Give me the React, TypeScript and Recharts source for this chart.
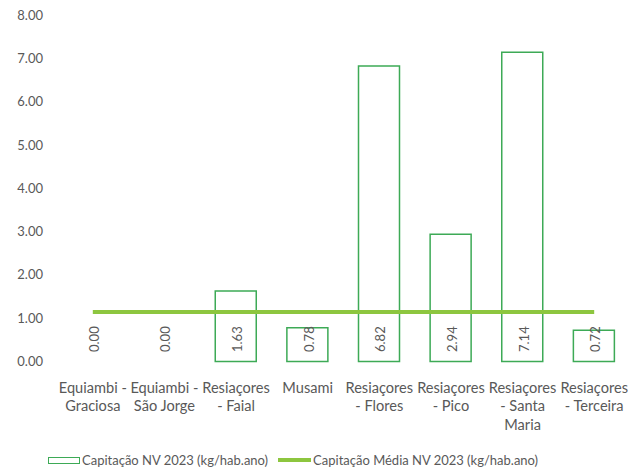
import React from "react";
import { ComposedChart, Bar, Line, XAxis, YAxis, LabelList } from "recharts";

const categories = [
  ["Equiambi -", "Graciosa"],
  ["Equiambi -", "São Jorge"],
  ["Resiaçores", "- Faial"],
  ["Musami"],
  ["Resiaçores", "- Flores"],
  ["Resiaçores", "- Pico"],
  ["Resiaçores", "- Santa", "Maria"],
  ["Resiaçores", "- Terceira"],
];
const capitacao = [0.0, 0.0, 1.63, 0.78, 6.82, 2.94, 7.14, 0.72];
const media = [1.14, 1.14, 1.14, 1.14, 1.14, 1.14, 1.14, 1.14];
const yTicks = [0, 1, 2, 3, 4, 5, 6, 7, 8];

const data = categories.map((c, i) => ({
  name: c.join("\n"),
  cap: capitacao[i],
  avg: media[i],
  zero: 0,
}));

const FONT = "Lato, 'Open Sans', sans-serif";
const GRAY = "#595959";
const BAR = "#3daa56";
const LINE = "#8dc63f";

const XTick = (props: any) => {
  const { x, y, payload } = props;
  const lines = String(payload.value).split("\n");
  return (
    <g>
      {lines.map((l, i) => (
        <text
          key={i}
          x={x}
          y={y + 23.5 + i * 18.5}
          textAnchor="middle"
          dominantBaseline="central"
          fill={GRAY}
          fontSize={14.6}
          fontFamily={FONT}
        >
          {l}
        </text>
      ))}
    </g>
  );
};

const BarLabel = (props: any) => {
  const { x, y, value } = props;
  const cx = x + 1;
  const by = y - 9.5;
  return (
    <text
      x={cx}
      y={by}
      transform={`rotate(-90 ${cx} ${by})`}
      textAnchor="start"
      dominantBaseline="central"
      fill={GRAY}
      fontSize={13}
      fontFamily={FONT}
    >
      {Number(value).toFixed(2)}
    </text>
  );
};

const LegendBox = () => (
  <div
    style={{
      position: "absolute",
      left: 48,
      top: 452,
      display: "flex",
      alignItems: "center",
      fontFamily: FONT,
      fontSize: 13,
      color: GRAY,
      whiteSpace: "nowrap",
      lineHeight: "16px",
    }}
  >
    <span
      style={{
        display: "inline-block",
        width: 32,
        height: 7,
        border: `1.5px solid ${BAR}`,
        boxSizing: "border-box",
        marginRight: 2,
      }}
    />
    <span>Capitação NV 2023 (kg/hab.ano)</span>
    <span
      style={{
        display: "inline-block",
        width: 33,
        height: 4,
        background: LINE,
        marginLeft: 10,
        marginRight: 2,
      }}
    />
    <span>Capitação Média NV 2023 (kg/hab.ano)</span>
  </div>
);

export default function App() {
  return (
    <div style={{ position: "absolute", left: 0, top: 0, width: 630, height: 472, background: "#fff" }}>
      <ComposedChart
        width={630}
        height={472}
        data={data}
        margin={{ top: 15, right: 0, left: 0, bottom: 0 }}
      >
        <XAxis
          dataKey="name"
          axisLine={false}
          tickLine={false}
          tickSize={0}
          interval={0}
          tick={<XTick />}
          height={110.5}
        />
        <YAxis
          domain={[0, 8]}
          ticks={yTicks}
          axisLine={false}
          tickLine={false}
          tickSize={0}
          tickMargin={14}
          width={57}
          tickFormatter={(v: number) => v.toFixed(2)}
          tick={{ fill: GRAY, fontSize: 13, fontFamily: FONT }}
        />
        <Bar dataKey="cap" fill="#ffffff" stroke={BAR} strokeWidth={1.5} barSize={41} isAnimationActive={false} />
        <Line dataKey="avg" stroke={LINE} strokeWidth={4} dot={false} activeDot={false} isAnimationActive={false} />
        <Line dataKey="zero" stroke="none" dot={false} activeDot={false} isAnimationActive={false} legendType="none">
          <LabelList dataKey="cap" content={<BarLabel />} />
        </Line>
      </ComposedChart>
      <LegendBox />
    </div>
  );
}
